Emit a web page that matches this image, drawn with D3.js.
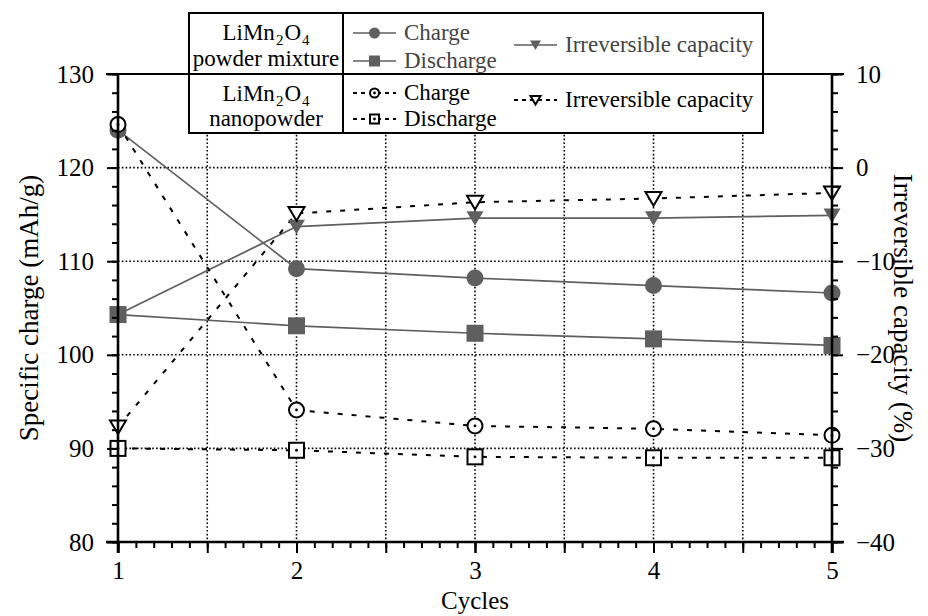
<!DOCTYPE html>
<html>
<head>
<meta charset="utf-8">
<script src="https://cdn.jsdelivr.net/npm/d3@7"></script>
<style>
  body { margin: 0; background: #fff; }
  svg text { font-family: "Liberation Serif", "DejaVu Serif", serif; }
</style>
</head>
<body>
<svg class="graphic" width="928" height="616"></svg>
<script>
// values
const cycles = [1, 2, 3, 4, 5];
const mixCharge = [124.0, 109.2, 108.2, 107.4, 106.6];
const mixDischarge = [104.3, 103.1, 102.3, 101.7, 101.0];
const mixIrrev = [-15.7, -6.3, -5.4, -5.4, -5.1];
const nanoCharge = [124.6, 94.1, 92.4, 92.1, 91.4];
const nanoDischarge = [90.0, 89.8, 89.1, 89.0, 89.0];
const nanoIrrev = [-27.7, -4.9, -3.7, -3.3, -2.7];

const xTicks = [1, 2, 3, 4, 5];
const yLeftTicks = [80, 90, 100, 110, 120, 130];
const yRightTicks = [-40, -30, -20, -10, 0, 10];

const MARGIN = { top: 74, right: 96, bottom: 74, left: 118 };
const W = 928, H = 616;
const GRAY = "#5f5f5f";

const $svg = d3.select('.graphic');

const x = d3.scaleLinear().domain([1, 5]).range([MARGIN.left, W - MARGIN.right]);
const y = d3.scaleLinear().domain([80, 130]).range([H - MARGIN.bottom, MARGIN.top]);
const yR = d3.scaleLinear().domain([-40, 10]).range([H - MARGIN.bottom, MARGIN.top]);

const x0 = x.range()[0], x1 = x.range()[1];
const yB = y.range()[0], yT = y.range()[1];

// grid (dotted)
const grid = $svg.append('g').attr('stroke', '#000').attr('stroke-width', 1.6)
    .attr('stroke-dasharray', '1.6,2.2');
d3.range(1.5, 5, 0.5).forEach(v => {
    grid.append('line').attr('x1', x(v)).attr('x2', x(v)).attr('y1', yT).attr('y2', yB);
});
[90, 100, 110, 120].forEach(v => {
    grid.append('line').attr('x1', x0).attr('x2', x1).attr('y1', y(v)).attr('y2', y(v));
});

// series
const series = [
    { vals: mixCharge, sc: y, solid: true, shape: 'circle' },
    { vals: mixDischarge, sc: y, solid: true, shape: 'square' },
    { vals: mixIrrev, sc: yR, solid: true, shape: 'tri' },
    { vals: nanoCharge, sc: y, solid: false, shape: 'circle' },
    { vals: nanoDischarge, sc: y, solid: false, shape: 'square' },
    { vals: nanoIrrev, sc: yR, solid: false, shape: 'tri' }
];

function marker(g, shape, solid, cx, cy, s) {
    // s = half size
    const fill = solid ? GRAY : '#fff';
    const stroke = solid ? 'none' : '#000';
    const sw = solid ? 0 : 2;
    if (shape === 'circle') {
        g.append('circle').attr('cx', cx).attr('cy', cy).attr('r', solid ? s : s - 1)
            .attr('fill', fill).attr('stroke', stroke).attr('stroke-width', sw);
    } else if (shape === 'square') {
        const h = solid ? s : s - 1;
        g.append('rect').attr('x', cx - h).attr('y', cy - h).attr('width', 2 * h).attr('height', 2 * h)
            .attr('fill', fill).attr('stroke', stroke).attr('stroke-width', sw);
    } else {
        const h = solid ? s : s - 0.5;
        g.append('path')
            .attr('d', `M${cx - h},${cy - h * 0.8}L${cx + h},${cy - h * 0.8}L${cx},${cy + h * 0.9}Z`)
            .attr('fill', fill).attr('stroke', stroke).attr('stroke-width', sw);
    }
    if (!solid && shape !== 'tri') {
        g.append('circle').attr('cx', cx).attr('cy', cy).attr('r', 1.4).attr('fill', '#000');
    }
}

series.forEach(s => {
    const line = d3.line().x((d, i) => x(cycles[i])).y(d => s.sc(d));
    $svg.append('path')
        .datum(s.vals)
        .attr('d', line)
        .attr('fill', 'none')
        .attr('stroke', s.solid ? GRAY : '#000')
        .attr('stroke-width', s.solid ? 1.7 : 2)
        .attr('stroke-dasharray', s.solid ? null : '5,9');
});

series.forEach(s => {
    const g = $svg.append('g');
    s.vals.forEach((v, i) => marker(g, s.shape, s.solid, x(cycles[i]), s.sc(v), 8.5));
});

// axes
function ticksG(axis, tr, fontShow) {
    const g = $svg.append('g').attr('transform', tr).call(axis);
    g.select('.domain').remove();
    g.selectAll('.tick line').attr('stroke', '#000').attr('stroke-width', 2);
    g.selectAll('.tick text').attr('font-size', 25).attr('fill', '#000')
        .attr('font-family', '"Liberation Serif", serif');
    if (!fontShow) g.selectAll('.tick text').remove();
    return g;
}

// bottom
ticksG(d3.axisBottom(x).tickValues(d3.range(1, 5.01, 0.1)).tickSize(6).tickFormat(''), `translate(0,${yB})`, false);
ticksG(d3.axisBottom(x).tickValues(d3.range(1, 5.01, 0.5)).tickSize(11).tickFormat(''), `translate(0,${yB})`, false);
ticksG(d3.axisBottom(x).tickValues(xTicks).tickSize(11).tickPadding(8).tickFormat(d3.format('d')), `translate(0,${yB})`, true);

// left
ticksG(d3.axisLeft(y).tickValues(d3.range(80, 131, 2)).tickSize(6).tickFormat(''), `translate(${x0},0)`, false);
ticksG(d3.axisLeft(y).tickValues(yLeftTicks).tickSize(11).tickPadding(13).tickFormat(d3.format('d')), `translate(${x0},0)`, true);

// right
ticksG(d3.axisRight(yR).tickValues(d3.range(-40, 11, 2)).tickSize(6).tickFormat(''), `translate(${x1},0)`, false);
ticksG(d3.axisRight(yR).tickValues(yRightTicks).tickSize(11).tickPadding(13).tickFormat(d3.format('d')), `translate(${x1},0)`, true);

// frame
const frame = $svg.append('g').attr('stroke', '#000');
frame.append('line').attr('x1', x0).attr('x2', x0).attr('y1', yT).attr('y2', yB + 11).attr('stroke-width', 2.6);
frame.append('line').attr('x1', x1).attr('x2', x1).attr('y1', yT).attr('y2', yB + 11).attr('stroke-width', 2.6);
frame.append('line').attr('x1', x0 - 12).attr('x2', x1 + 12).attr('y1', yB).attr('y2', yB).attr('stroke-width', 2.6);
frame.append('line').attr('x1', x0 - 12).attr('x2', x1 + 12).attr('y1', yT).attr('y2', yT).attr('stroke-width', 2);

// axis titles
$svg.append('text')
    .attr('transform', `translate(38,${(yT + yB) / 2}) rotate(-90)`)
    .attr('text-anchor', 'middle').attr('font-size', 27)
    .text('Specific charge (mAh/g)');
$svg.append('text')
    .attr('transform', `translate(894,${(yT + yB) / 2}) rotate(90)`)
    .attr('text-anchor', 'middle').attr('font-size', 27)
    .text('Irreversible capacity (%)');
$svg.append('text')
    .attr('x', (x0 + x1) / 2).attr('y', 609)
    .attr('text-anchor', 'middle').attr('font-size', 25)
    .text('Cycles');

// legend
const L = { left: 189, right: 763, top: 13, bottom: 133, mid: 343 };
const leg = $svg.append('g');
leg.append('rect').attr('x', L.left).attr('y', L.top)
    .attr('width', L.right - L.left).attr('height', L.bottom - L.top)
    .attr('fill', '#fff').attr('stroke', '#000').attr('stroke-width', 2);
leg.append('line').attr('x1', L.mid).attr('x2', L.mid).attr('y1', L.top).attr('y2', L.bottom)
    .attr('stroke', '#000').attr('stroke-width', 2);
leg.append('line').attr('x1', L.left).attr('x2', L.right).attr('y1', yT).attr('y2', yT)
    .attr('stroke', '#000').attr('stroke-width', 2);

function formula(yy) {
    const t = leg.append('text').attr('x', (L.left + L.mid) / 2).attr('y', yy)
        .attr('text-anchor', 'middle').attr('font-size', 23);
    t.append('tspan').text('LiMn');
    t.append('tspan').attr('font-size', 15).attr('dx', 1).attr('dy', 5).text('2');
    t.append('tspan').attr('dx', 1).attr('dy', -5).text('O');
    t.append('tspan').attr('font-size', 15).attr('dx', 1).attr('dy', 5).text('4');
}
formula(40);
leg.append('text').attr('x', (L.left + L.mid) / 2).attr('y', 66)
    .attr('text-anchor', 'middle').attr('font-size', 23).text('powder mixture');
formula(101);
leg.append('text').attr('x', (L.left + L.mid) / 2).attr('y', 126)
    .attr('text-anchor', 'middle').attr('font-size', 23).text('nanopowder');

const legItems = [
    { label: 'Charge', solid: true, shape: 'circle', lx: 353, ly: 33 },
    { label: 'Discharge', solid: true, shape: 'square', lx: 353, ly: 61 },
    { label: 'Irreversible capacity', solid: true, shape: 'tri', lx: 514, ly: 45 },
    { label: 'Charge', solid: false, shape: 'circle', lx: 353, ly: 93 },
    { label: 'Discharge', solid: false, shape: 'square', lx: 353, ly: 119 },
    { label: 'Irreversible capacity', solid: false, shape: 'tri', lx: 514, ly: 100 }
];
legItems.forEach(d => {
    leg.append('line').attr('x1', d.lx).attr('x2', d.lx + 43).attr('y1', d.ly).attr('y2', d.ly)
        .attr('stroke', d.solid ? GRAY : '#000').attr('stroke-width', d.solid ? 1.7 : 2)
        .attr('stroke-dasharray', d.solid ? null : '4,4');
    marker(leg, d.shape, d.solid, d.lx + 21.5, d.ly, 5.5);
    leg.append('text').attr('x', d.lx + 51).attr('y', d.ly + 7)
        .attr('font-size', 23).attr('fill', d.solid ? '#444' : '#000').text(d.label);
});
</script>
</body>
</html>
